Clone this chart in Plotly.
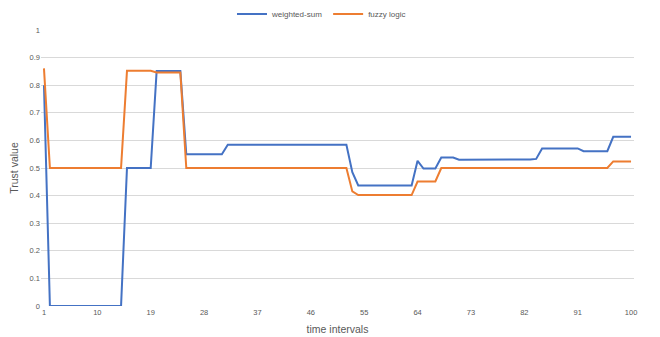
import plotly.graph_objects as go

# time intervals 1..100
intervals = list(range(1, 101))

# trust value per interval, piecewise runs (value, count)
weighted_sum_runs = [
    (0.80, 1), (0.0, 13), (0.50, 5), (0.851, 5), (0.55, 7), (0.584, 21),
    (0.485, 1), (0.437, 10), (0.526, 1), (0.498, 3), (0.538, 3), (0.53, 12),
    (0.531, 1), (0.533, 1), (0.571, 7), (0.561, 5), (0.613, 4),
]
fuzzy_logic_runs = [
    (0.861, 1), (0.50, 13), (0.852, 5), (0.846, 5), (0.50, 28), (0.415, 1),
    (0.402, 10), (0.451, 4), (0.50, 29), (0.524, 4),
]

x_tick_labels = [1, 10, 19, 28, 37, 46, 55, 64, 73, 82, 91, 100]


def expand(runs):
    vals = []
    for v, n in runs:
        vals.extend([v] * n)
    return vals


weighted_sum = expand(weighted_sum_runs)
fuzzy_logic = expand(fuzzy_logic_runs)

FONT = "Liberation Sans"
GREY = "#595959"

fig = go.Figure()
fig.add_trace(go.Scatter(x=intervals, y=weighted_sum, mode="lines", name="weighted-sum",
                         line=dict(color="#4472C4", width=2)))
fig.add_trace(go.Scatter(x=intervals, y=fuzzy_logic, mode="lines", name="fuzzy logic",
                         line=dict(color="#ED7D31", width=2)))

fig.update_layout(
    width=660, height=337,
    margin=dict(l=41, r=26, t=30, b=31, autoexpand=False),
    paper_bgcolor="white", plot_bgcolor="white",
    font=dict(family=FONT, color=GREY, size=8),
    showlegend=True,
    legend=dict(orientation="h", x=0.473, xanchor="center",
                yref="container", y=1 - 14 / 337, yanchor="middle",
                font=dict(size=8, color=GREY), itemwidth=30, bgcolor="rgba(0,0,0,0)"),
    xaxis=dict(
        range=[0.5, 100.5], tickmode="array", tickvals=x_tick_labels,
        ticktext=[str(v) for v in x_tick_labels], showgrid=False, zeroline=False,
        showline=False, ticks="", tickfont=dict(size=7.5, color=GREY), automargin=False,
        title=dict(text="time intervals", font=dict(size=10.5, color=GREY), standoff=10),
    ),
    yaxis=dict(
        range=[0, 1], dtick=0.1, tick0=0, showgrid=True, gridcolor="#d9d9d9", gridwidth=1,
        zeroline=False, showline=False, ticks="", tickfont=dict(size=7.5, color=GREY),
        automargin=False,
        title=dict(text="Trust value", font=dict(size=10.5, color=GREY), standoff=8),
    ),
)

fig.write_html("out.html")
